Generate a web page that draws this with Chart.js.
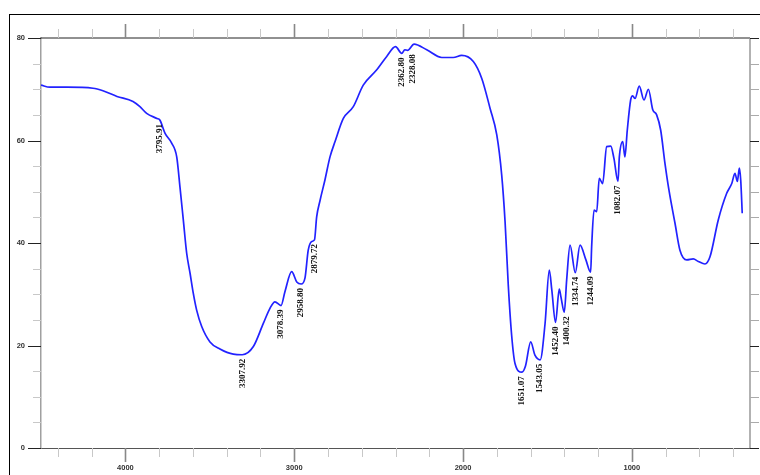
<!DOCTYPE html>
<html lang="en">

<head>
    <meta charset="UTF-8">
    <meta name="viewport" content="width=device-width, initial-scale=1.0">
    <script src="https://cdn.jsdelivr.net/npm/chart.js"></script>
    <title>Espectro IR</title>
    <style>
        body { margin: 0; background: #fff; overflow: hidden; }
        .frame {
            position: absolute; left: 9px; top: 14px;
            width: 800px; height: 500px;
            border: 1px solid #000;
        }
        .container { position: absolute; left: 0; top: 0; width: 760px; height: 475px; }
    </style>
</head>
<body>
    <div class="frame"></div>
    <div class="container">
        <canvas id="chart-ir"></canvas>
    </div>

<script>
    // wavenumber (cm-1) and transmittance (%T)
    const wavenumbers = [4500, 4447, 4346, 4192, 4133, 4050, 3955, 3914, 3874, 3813, 3796, 3765, 3726, 3696,
        3677, 3657, 3637, 3617, 3598, 3578, 3548, 3499, 3440, 3361, 3308, 3242, 3183, 3143, 3114, 3078,
        3055, 3015, 2985, 2959, 2936, 2917, 2896, 2880, 2867, 2847, 2818, 2788, 2758, 2709, 2650, 2591,
        2511, 2452, 2400, 2363, 2345, 2328, 2290, 2215, 2126, 2058, 2008, 1939, 1889, 1840, 1800, 1771,
        1751, 1732, 1712, 1692, 1651, 1630, 1599, 1574, 1543, 1514, 1489, 1474, 1452, 1430, 1420, 1400,
        1386, 1366, 1335, 1307, 1272, 1244, 1238, 1224, 1208, 1193, 1173, 1149, 1125, 1106, 1082, 1074,
        1054, 1041, 1027, 1007, 995, 981, 956, 928, 902, 876, 853, 829, 804, 780, 744, 715, 675, 636,
        606, 567, 537, 488, 438, 408, 389, 375, 363, 355, 346];
    const transmittance = [70.8, 70.4, 70.4, 70.2, 69.7, 68.6, 67.6, 66.6, 65.3, 64.3, 64.0, 61.4, 59.5, 56.8,
        51.0, 44.5, 38.0, 34.1, 30.2, 26.9, 23.7, 20.7, 19.3, 18.3, 18.2, 19.8, 24.3, 27.3, 28.5, 27.8,
        30.5, 34.4, 32.4, 32.0, 33.2, 38.6, 40.3, 40.6, 45.1, 48.3, 52.3, 56.8, 59.8, 64.3, 66.6, 70.8,
        73.8, 76.4, 78.3, 77.0, 77.7, 77.6, 78.8, 77.7, 76.2, 76.2, 76.6, 75.4, 72.1, 66.3, 61.1, 53.3,
        44.2, 31.8, 22.0, 16.5, 14.8, 16.0, 20.7, 18.1, 17.2, 24.3, 34.7, 30.8, 24.5, 31.0, 29.5, 26.5,
        32.8, 39.6, 34.2, 39.6, 36.7, 34.3, 39.3, 46.4, 46.1, 52.6, 51.6, 58.8, 58.9, 56.5, 52.0, 56.8,
        59.8, 56.8, 62.0, 67.9, 68.7, 68.2, 70.6, 67.9, 70.0, 66.0, 65.0, 62.0, 55.6, 50.3, 43.8, 38.6,
        36.7, 36.9, 36.4, 35.9, 37.3, 44.5, 49.7, 51.6, 53.6, 52.0, 54.6, 52.3, 45.8];

    // peak picks (label position and %T at the peak)
    const peakWn = [3795.91, 3307.92, 3078.39, 2958.80, 2879.72, 2362.80, 2328.08,
        1651.07, 1543.05, 1452.40, 1400.32, 1334.74, 1244.09, 1082.07];
    const peakT = [64.0, 18.2, 27.8, 32.0, 40.6, 77.0, 77.6,
        14.8, 17.2, 24.5, 26.5, 34.2, 34.3, 52.0];

    // axis ticks
    const xMajor = [4000, 3000, 2000, 1000];
    const xMinorStep = 200;
    const yLabels = [0, 20, 40, 60, 80];
    const yMinorStep = 5;

    const xTickValues = [];
    for (let v = 400; v <= 4400; v += xMinorStep) xTickValues.push(v);

    const tickFont = { family: 'Liberation Sans', size: 7.5, weight: 'bold' };

    const axisDecor = {
        id: 'axisDecor',
        afterDraw(chart) {
            const { ctx, chartArea: a, scales: { x, y } } = chart;
            ctx.save();
            const seg = (x1, y1, x2, y2, color, w) => {
                ctx.strokeStyle = color;
                ctx.lineWidth = w;
                ctx.beginPath();
                ctx.moveTo(x1, y1);
                ctx.lineTo(x2, y2);
                ctx.stroke();
            };

            // frame lines
            seg(a.left, a.top, a.right, a.top, '#222', 1);
            seg(a.right, a.top, a.right, a.bottom, '#999', 1.5);

            // x ticks bottom and top
            x.ticks.forEach(t => {
                const px = Math.round(x.getPixelForValue(t.value)) + 0.5;
                const major = xMajor.includes(t.value);
                const len = major ? 14 : 9;
                const col = major ? '#888' : '#c8c8c8';
                const w = major ? 1.6 : 1;
                seg(px, a.bottom, px, a.bottom + len, col, w);
                seg(px, a.top, px, a.top - len, col, w);
            });

            // y ticks left and right
            y.ticks.forEach(t => {
                const py = Math.round(y.getPixelForValue(t.value)) + 0.5;
                const major = yLabels.includes(t.value);
                seg(a.left - (major ? 13 : 8), py, a.left, py, major ? '#222' : '#c8c8c8', 1);
                seg(a.right, py, a.right + 9, py, major ? '#222' : '#aaa', 1);
            });

            // peak labels, written upward under each peak; push apart when they collide
            ctx.fillStyle = '#111';
            ctx.font = 'bold 9px "Liberation Serif"';
            ctx.textAlign = 'right';
            ctx.textBaseline = 'middle';
            let lastX = -100, lastY = -100;
            peakWn.forEach((w, i) => {
                let px = x.getPixelForValue(w);
                const py = y.getPixelForValue(peakT[i]);
                if (px - lastX < 11 && Math.abs(py - lastY) < 30) px = lastX + 11;
                lastX = px; lastY = py;
                ctx.save();
                ctx.translate(px, py + 4);
                ctx.rotate(-Math.PI / 2);
                ctx.fillText(w.toFixed(2), 0, 0);
                ctx.restore();
            });
            ctx.restore();
        }
    };

    const ctxIr = document.getElementById('chart-ir');

    new Chart(ctxIr, {
        type: 'line',
        data: {
            datasets: [{
                data: wavenumbers.map((w, i) => ({ x: w, y: transmittance[i] })),
                borderColor: '#2222ff',
                borderWidth: 1.7,
                pointRadius: 0,
                cubicInterpolationMode: 'monotone',
                fill: false
            }]
        },
        options: {
            responsive: true,
            maintainAspectRatio: false,
            animation: false,
            layout: {
                padding: { top: 38, right: 10, left: 0, bottom: 0 }
            },
            plugins: {
                legend: { display: false },
                tooltip: { enabled: false }
            },
            scales: {
                x: {
                    type: 'linear',
                    reverse: true,
                    min: 300,
                    max: 4500,
                    afterBuildTicks: axis => { axis.ticks = xTickValues.map(v => ({ value: v })); },
                    afterFit: axis => { axis.height = 27; },
                    ticks: {
                        autoSkip: false,
                        maxRotation: 0,
                        padding: 2,
                        color: '#333',
                        font: tickFont,
                        callback: v => xMajor.includes(v) ? String(v) : ''
                    },
                    grid: {
                        drawOnChartArea: false,
                        drawTicks: true,
                        tickLength: 13,
                        color: 'rgba(0,0,0,0)'
                    },
                    border: { display: true, color: '#555', width: 1 }
                },
                y: {
                    min: 0,
                    max: 80,
                    afterFit: axis => { axis.width = 41; },
                    ticks: {
                        stepSize: yMinorStep,
                        autoSkip: false,
                        padding: 3,
                        color: '#333',
                        font: tickFont,
                        callback: v => yLabels.includes(v) ? String(v) : ''
                    },
                    grid: {
                        drawOnChartArea: false,
                        drawTicks: true,
                        tickLength: 13,
                        color: 'rgba(0,0,0,0)'
                    },
                    border: { display: true, color: '#a0a0a0', width: 1.5 }
                }
            }
        },
        plugins: [axisDecor]
    });
</script>
</body>
</html>
